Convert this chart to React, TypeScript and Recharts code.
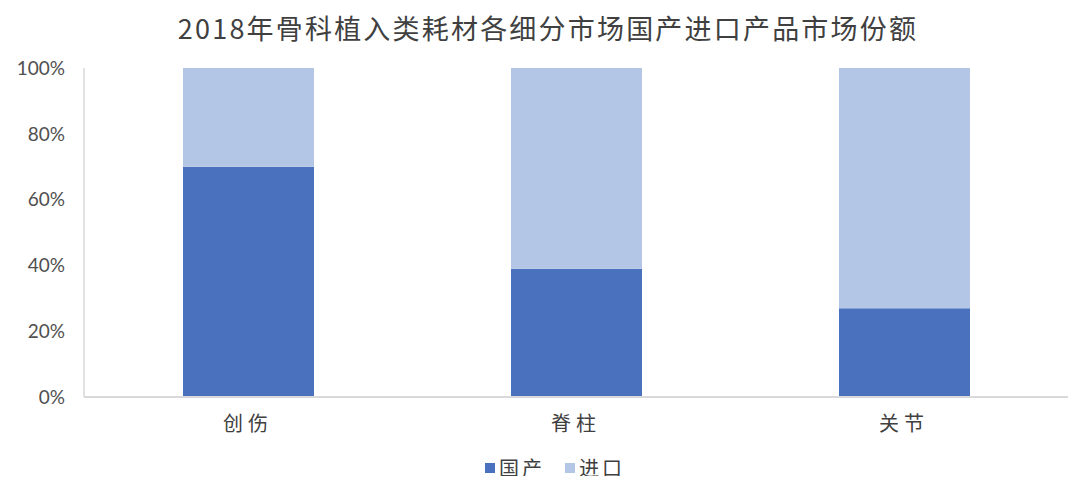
import { BarChart, Bar, XAxis, YAxis, CartesianGrid } from 'recharts';

const categories = ['创伤', '脊柱', '关节'];
const domestic = [70, 39, 27];
const imported = [30, 61, 73];
const seriesNames = ['国产', '进口'];
const seriesColors = ['#4a71bd', '#b4c6e6'];
const yTicks = [0, 20, 40, 60, 80, 100];

const data = categories.map((name, i) => ({ name, domestic: domestic[i], imported: imported[i] }));

const CJK = '"Noto Sans CJK SC", sans-serif';

export default function App() {
  return (
    <div style={{ position: 'relative', width: 1088, height: 484, margin: -8, background: '#fff', overflow: 'hidden' }}>
      <div
        style={{
          position: 'absolute', top: 8, left: 0, width: 1096, textAlign: 'center',
          fontFamily: CJK, fontSize: 27, letterSpacing: 2.2, color: '#404040', lineHeight: '40px',
        }}
      >
        2018年骨科植入类耗材各细分市场国产进口产品市场份额
      </div>
      <BarChart
        width={1088}
        height={484}
        data={data}
        margin={{ top: 68, right: 20, bottom: 47, left: 0 }}
        barSize={131}
      >
        <CartesianGrid vertical={false} horizontal={false} />
        <XAxis
          dataKey="name"
          height={40}
          tickLine={false}
          tickSize={0}
          tickMargin={20}
          axisLine={{ stroke: '#d9d9d9', strokeWidth: 2 }}
          tick={{ fill: '#404040', fontSize: 20, fontFamily: CJK, letterSpacing: 5 }}
        />
        <YAxis
          width={84}
          domain={[0, 100]}
          ticks={yTicks}
          interval={0}
          tickFormatter={(v) => `${v}%`}
          tickLine={false}
          tickSize={0}
          tickMargin={19}
          axisLine={{ stroke: '#d9d9d9', strokeWidth: 1.5 }}
          tick={{ fill: '#505050', fontSize: 19, fontFamily: 'Lato, sans-serif' }}
        />
        <Bar dataKey="domestic" stackId="a" fill={seriesColors[0]} isAnimationActive={false} />
        <Bar dataKey="imported" stackId="a" fill={seriesColors[1]} isAnimationActive={false} />
      </BarChart>
      <div
        style={{
          position: 'absolute', top: 455, left: 0, width: 1110, display: 'flex', justifyContent: 'center',
          fontFamily: CJK, fontSize: 20, color: '#404040', lineHeight: '26px',
        }}
      >
        {seriesNames.map((n, i) => (
          <span key={n} style={{ display: 'flex', alignItems: 'center', marginRight: i === 0 ? 20 : 0 }}>
            <span style={{ display: 'inline-block', width: 10, height: 10, background: seriesColors[i], marginRight: 4 }} />
            <span style={{ letterSpacing: 3 }}>{n}</span>
          </span>
        ))}
      </div>
    </div>
  );
}
